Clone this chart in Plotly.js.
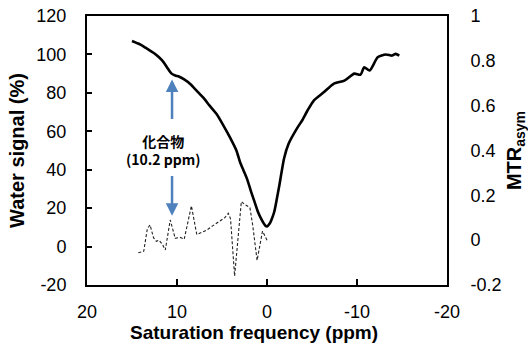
<!DOCTYPE html>
<html>
<head>
<meta charset="utf-8">
<script src="https://cdn.plot.ly/plotly-3.0.1.min.js"></script>
<style>html,body{margin:0;padding:0;background:#fff;}#chart{width:528px;height:347px;}</style>
</head>
<body>
<div id="chart"></div>
<script>
// Water signal (%) vs saturation frequency (ppm) — solid line, left axis
const ppmWater = [15.0, 14.5, 14.0, 13.5, 13.0, 12.5, 12.0, 11.5, 11.0, 10.6, 10.2, 9.8, 9.2, 8.5, 7.8, 7.1, 6.4, 5.6, 4.9, 4.1, 3.4, 3.0, 2.6, 2.2, 1.8, 1.4, 1.0, 0.6, 0.2, 0.0, -0.3, -0.5, -0.8, -1.1, -1.4, -1.9, -2.4, -3.4, -3.9, -4.5, -5.2, -6.3, -7.4, -8.6, -9.7, -10.4, -10.8, -11.4, -12.3, -13.2, -13.9, -14.3, -14.7];
const waterSignal = [107, 106, 105, 103.5, 102, 100.5, 98.5, 96, 92.5, 90, 89, 88.5, 87, 84.5, 81, 77.6, 73.5, 69, 63.5, 56.7, 50, 44, 39.5, 35, 29, 23.5, 18, 14, 11, 10.5, 12, 14, 18, 25, 32.6, 46, 53.5, 62, 65.6, 70.8, 76, 80.3, 84.7, 86.4, 90, 89.5, 93.3, 91.6, 98.5, 100, 99.4, 100.3, 99.4];

// MTRasym vs saturation frequency (ppm) — dashed line, right axis
const ppmMTR = [14.3, 13.7, 13.3, 13.0, 12.6, 12.3, 12.0, 11.6, 11.3, 10.75, 10.2, 9.7, 9.2, 8.4, 7.8, 7.2, 6.7, 6.0, 5.3, 4.7, 4.3, 4.05, 3.6, 2.85, 2.5, 1.9, 1.6, 1.1, 0.5, 0.0];
const mtrAsym = [-0.056, -0.05, 0.05, 0.068, 0.01, -0.005, 0.0, -0.02, -0.044, 0.09, 0.008, 0.013, 0.004, 0.153, 0.025, 0.035, 0.045, 0.065, 0.085, 0.10, 0.12, 0.095, -0.16, 0.172, 0.16, 0.145, 0.07, -0.09, 0.04, 0.0];

// Axis ticks
const xTicks = [20, 10, 0, -10, -20];
const xTickText = ['20', '10', '0', '-10', '-20'];
const yTicks = [-20, 0, 20, 40, 60, 80, 100, 120];
const yTickText = ['-20', '0', '20', '40', '60', '80', '100', '120'];
const y2Ticks = [-0.2, 0, 0.2, 0.4, 0.6, 0.8, 1];
const y2TickText = ['-0.2', '0', '0.2', '0.4', '0.6', '0.8', '1'];

// Annotation
const compoundLabel = '化合物<br>(10.2 ppm)';
const compoundPpm = 10.55;
const upperArrow = [65.6, 87];   // [tail, head] in water signal units
const lowerArrow = [37.5, 16];

const tickFont = {family: 'Liberation Sans, Arial, sans-serif', size: 18, color: '#000'};
const titleFont = {family: 'Liberation Sans, Arial, sans-serif', size: 20, color: '#000', weight: 'bold'};
const xTitleFont = {family: 'Liberation Sans, Arial, sans-serif', size: 19, color: '#000', weight: 'bold'};

const traces = [
  {x: ppmWater, y: waterSignal, type: 'scatter', mode: 'lines', yaxis: 'y',
   line: {color: '#000', width: 2.6, shape: 'spline', smoothing: 0.6}, hoverinfo: 'skip'},
  {x: ppmMTR, y: mtrAsym, type: 'scatter', mode: 'lines', yaxis: 'y2',
   line: {color: '#222', width: 1.1, dash: '3px,2px'}, hoverinfo: 'skip'}
];

const layout = {
  width: 528, height: 347,
  margin: {l: 87, r: 81, t: 16, b: 62},
  paper_bgcolor: '#fff', plot_bgcolor: '#fff',
  showlegend: false,
  xaxis: {
    range: [20, -20], tickvals: xTicks, ticktext: xTickText,
    showgrid: false, zeroline: false, showline: true, linecolor: '#000', linewidth: 2, mirror: true,
    ticks: 'inside', ticklen: 6, tickwidth: 2, tickcolor: '#000',
    ticklabelstandoff: 9,
    tickfont: tickFont
  },
  yaxis: {
    range: [-20, 120], tickvals: yTicks, ticktext: yTickText,
    showgrid: false, zeroline: false, showline: true, linecolor: '#000', linewidth: 2,
    ticks: 'inside', ticklen: 5, tickwidth: 2, tickcolor: '#000',
    ticklabelstandoff: 15,
    tickfont: tickFont,
    title: {text: 'Water signal (%)', font: titleFont, standoff: 6}
  },
  yaxis2: {
    range: [-0.2, 1], tickvals: y2Ticks, ticktext: y2TickText,
    overlaying: 'y', side: 'right',
    showgrid: false, zeroline: false, showline: true, linecolor: '#000', linewidth: 2,
    ticks: '', ticklabelstandoff: 18,
    tickfont: tickFont,
    title: {text: 'MTR<sub>asym</sub>', font: titleFont, standoff: 6}
  },
  annotations: [
    {x: 0.464, y: 0, xref: 'paper', yref: 'paper', yanchor: 'middle', xanchor: 'center',
     text: 'Saturation frequency (ppm)', showarrow: false, font: xTitleFont},
    {x: compoundPpm, y: upperArrow[1], ax: compoundPpm, ay: upperArrow[0], xref: 'x', yref: 'y', axref: 'x', ayref: 'y',
     text: '', showarrow: true, arrowhead: 2, arrowsize: 1, arrowwidth: 2.5, arrowcolor: '#4F81BD'},
    {x: compoundPpm, y: lowerArrow[1], ax: compoundPpm, ay: lowerArrow[0], xref: 'x', yref: 'y', axref: 'x', ayref: 'y',
     text: '', showarrow: true, arrowhead: 2, arrowsize: 1, arrowwidth: 2.5, arrowcolor: '#4F81BD'},
    {x: 11.55, y: 50.5, xref: 'x', yref: 'y', text: compoundLabel, showarrow: false,
     font: {family: 'Noto Sans CJK JP, sans-serif', size: 14, color: '#000', weight: 'bold'}, align: 'center'}
  ]
};
// place the x-axis title below the tick labels (paper coordinates from pixel position)
layout.annotations[0].y = (285 - 332) / 269;

Plotly.newPlot('chart', traces, layout, {staticPlot: true});
</script>
</body>
</html>
